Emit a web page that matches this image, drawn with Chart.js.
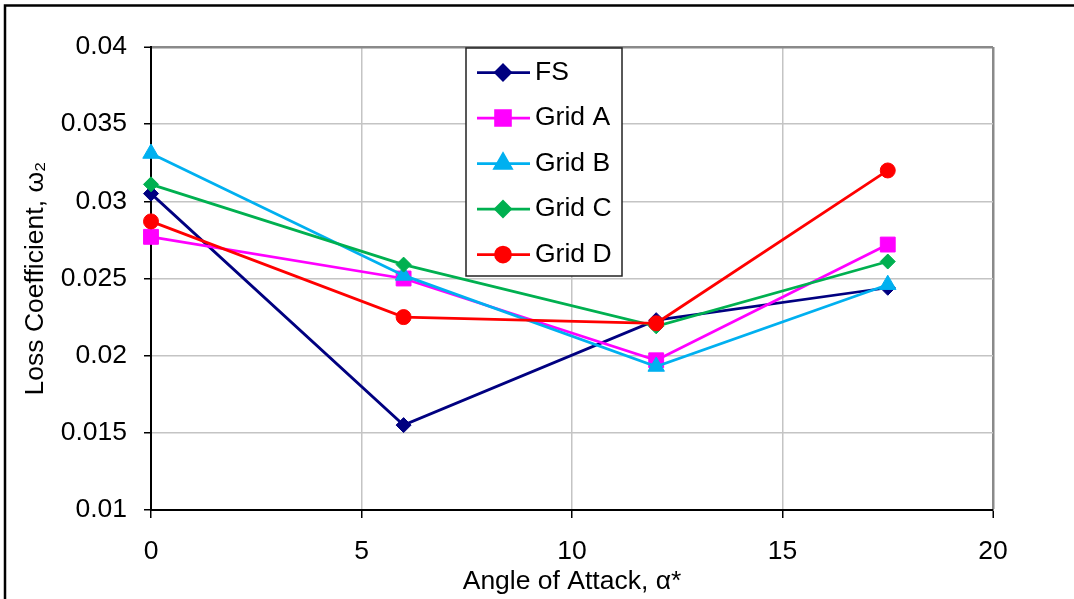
<!DOCTYPE html>
<html>
<head>
<meta charset="utf-8">
<title>Loss Coefficient vs Angle of Attack</title>
<script src="https://cdn.jsdelivr.net/npm/chart.js@4.4.1/dist/chart.umd.min.js"></script>
<style>
  html, body { margin: 0; padding: 0; background: #fff; overflow: hidden; }
  canvas { display: block; }
</style>
</head>
<body>
<canvas id="grafico" width="1074" height="599"></canvas>
<script>
// angle of attack (deg) and loss coefficient for each grid
const angles = [0, 6, 12, 17.5];
const fsLoss = [0.0305, 0.0155, 0.0223, 0.0244];
const gridALoss = [0.0277, 0.0250, 0.0197, 0.0272];
const gridBLoss = [0.0331, 0.0252, 0.0193, 0.0246];
const gridCLoss = [0.0311, 0.0259, 0.0219, 0.0261];
const gridDLoss = [0.0287, 0.0225, 0.0221, 0.0320];

const seriesNames = ["FS", "Grid A", "Grid B", "Grid C", "Grid D"];
const seriesValues = [fsLoss, gridALoss, gridBLoss, gridCLoss, gridDLoss];
const yTicks = [0.01, 0.015, 0.02, 0.025, 0.03, 0.035, 0.04];
const xTicks = [0, 5, 10, 15, 20];

const colors = ["#000080", "#ff00ff", "#00b0f0", "#00b050", "#ff0000"];
const markers = ["rectRot", "rect", "triangle", "rectRot", "circle"];
const markerSize = [7.5, 10.5, 9.5, 7.5, 7.5];

const FONT = "'Liberation Sans', Arial, sans-serif";
const FONT_SIZE = 26.5;

const toPoints = vals => vals.map((v, i) => ({ x: angles[i], y: v }));

const datasets = seriesNames.map((name, i) => ({
    label: name,
    data: toPoints(seriesValues[i]),
    borderColor: colors[i],
    backgroundColor: colors[i],
    borderWidth: 2.75,
    pointStyle: markers[i],
    pointRadius: markerSize[i],
    pointHoverRadius: markerSize[i],
    pointBorderWidth: 1,
    pointBackgroundColor: colors[i],
    pointBorderColor: colors[i],
    tension: 0,
    fill: false,
    clip: false,
    order: seriesNames.length - i
}));

// white page with the outer frame
const frame = {
    id: "frame",
    beforeDraw(chart) {
        const ctx = chart.ctx;
        ctx.save();
        ctx.fillStyle = "#fff";
        ctx.fillRect(0, 0, chart.width, chart.height);
        ctx.strokeStyle = "#000";
        ctx.lineWidth = 2.5;
        ctx.strokeRect(5, 5.5, chart.width + 20, chart.height + 20);
        ctx.restore();
    }
};

// boxed legend sitting inside the plot
const legendBox = {
    id: "legendBox",
    afterDraw(chart) {
        const ctx = chart.ctx;
        const left = 466, top = 48, w = 156, h = 228;
        ctx.save();
        ctx.fillStyle = "#fff";
        ctx.fillRect(left, top, w, h);
        ctx.strokeStyle = "#222";
        ctx.lineWidth = 1.5;
        ctx.strokeRect(left, top, w, h);

        chart.data.datasets.forEach((ds, i) => {
            const y = 72.5 + i * 45.5;
            ctx.strokeStyle = ds.borderColor;
            ctx.lineWidth = ds.borderWidth;
            ctx.beginPath();
            ctx.moveTo(477, y);
            ctx.lineTo(530, y);
            ctx.stroke();
            ctx.fillStyle = ds.backgroundColor;
            Chart.helpers.drawPoint(ctx, {
                pointStyle: ds.pointStyle,
                radius: ds.pointRadius,
                rotation: 0,
                borderWidth: 1
            }, 503, y);
            ctx.fillStyle = "#000";
            ctx.font = FONT_SIZE + "px " + FONT;
            ctx.textBaseline = "middle";
            ctx.textAlign = "left";
            ctx.fillText(ds.label, 535, y);
        });
        ctx.restore();
    }
};

const fmt = v => String(Number(v.toFixed(3)));

const ctx = document.getElementById("grafico").getContext("2d");
const chart = new Chart(ctx, {
    type: "line",
    data: { datasets: datasets },
    options: {
        responsive: false,
        animation: false,
        devicePixelRatio: 1,
        layout: { padding: { left: 0, top: 47, right: 81, bottom: 0 } },
        plugins: {
            legend: { display: false },
            tooltip: { enabled: false }
        },
        scales: {
            x: {
                type: "linear",
                min: 0,
                max: 20,
                afterBuildTicks: s => { s.ticks = xTicks.map(v => ({ value: v })); },
                afterFit: s => { s.height = 89; },
                ticks: {
                    color: "#000",
                    font: { family: FONT, size: FONT_SIZE },
                    padding: 18,
                    maxRotation: 0,
                    callback: v => fmt(v)
                },
                grid: {
                    color: c => c.index === 0 ? "rgba(0,0,0,0)" : (c.index === xTicks.length - 1 ? "#8a8a8a" : "#c4c4c4"),
                    lineWidth: c => c.index === xTicks.length - 1 ? 2.5 : 1.5,
                    tickColor: "#000",
                    tickLength: 8,
                    tickWidth: 1.5
                },
                border: { color: "#000", width: 2 },
                title: {
                    display: true,
                    text: "Angle of Attack, α*",
                    color: "#000",
                    font: { family: FONT, size: FONT_SIZE },
                    padding: { top: 0, bottom: 1.5 }
                }
            },
            y: {
                type: "linear",
                min: 0.01,
                max: 0.04,
                afterBuildTicks: s => { s.ticks = yTicks.map(v => ({ value: v })); },
                afterFit: s => { s.width = 151; },
                ticks: {
                    color: "#000",
                    font: { family: FONT, size: FONT_SIZE },
                    padding: 17,
                    callback: v => fmt(v)
                },
                grid: {
                    color: c => c.index === 0 ? "rgba(0,0,0,0)" : (c.index === yTicks.length - 1 ? "#8a8a8a" : "#c4c4c4"),
                    lineWidth: c => c.index === yTicks.length - 1 ? 2.5 : 1.5,
                    tickColor: "#000",
                    tickLength: 7,
                    tickWidth: 1.5
                },
                border: { color: "#000", width: 2 },
                title: {
                    display: true,
                    text: "Loss Coefficient, ω₂",
                    color: "#000",
                    font: { family: FONT, size: FONT_SIZE },
                    padding: { top: 20, bottom: 0 }
                }
            }
        }
    },
    plugins: [frame, legendBox]
});
</script>
</body>
</html>
